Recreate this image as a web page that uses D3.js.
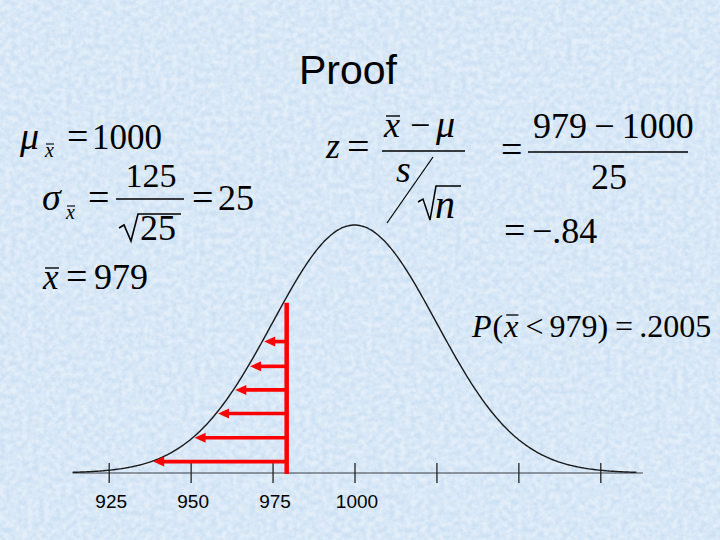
<!DOCTYPE html>
<html>
<head>
<meta charset="utf-8">
<script src="https://cdn.jsdelivr.net/npm/d3@7"></script>
<style>
  html, body { margin: 0; padding: 0; background: #d0e3f5; }
  svg { display: block; }
</style>
</head>
<body>
<svg id="chart" width="720" height="540"></svg>
<script>
// ---- data ----
const mu = 1000;            // population / sampling mean
const sigmaXbar = 25;       // standard error 125/sqrt(25)
const xbar = 979;           // observed sample mean
const tickValues = [925, 950, 975, 1000, 1025, 1050, 1075];
const tickLabels = ["925", "950", "975", "1000", "", "", ""];
const curveDomain = [914, 1086];
const axisDomain = [914, 1088];
// heights of the red arrows, as a fraction of the curve's peak density
const arrowLevels = [0.53, 0.43, 0.335, 0.24, 0.142, 0.046];
const titleText = "Proof";

// ---- setup ----
const svg = d3.select("#chart");
const W = 720, H = 540;

// background texture
const defs = svg.append("defs");
const f = defs.append("filter").attr("id", "tex").attr("x", 0).attr("y", 0).attr("width", 1).attr("height", 1);
f.append("feTurbulence").attr("type", "fractalNoise").attr("baseFrequency", "0.18")
  .attr("numOctaves", 3).attr("seed", 11).attr("result", "n");
f.append("feColorMatrix").attr("in", "n").attr("type", "matrix")
  .attr("values", "0 0 0 0 1  0 0 0 0 1  0 0 0 0 1  2.0 0 0 0 -0.5");
svg.append("rect").attr("width", W).attr("height", H).attr("fill", "#cde1f4");
svg.append("rect").attr("width", W).attr("height", H).attr("fill", "#fff")
  .attr("filter", "url(#tex)").attr("opacity", 0.45);

// scales
const x = d3.scaleLinear().domain([925, 1075]).range([108.7, 600.3]);
const pdf = v => Math.exp(-0.5 * ((v - mu) / sigmaXbar) ** 2) / (sigmaXbar * Math.sqrt(2 * Math.PI));
const peak = pdf(mu);
const y = d3.scaleLinear().domain([0, peak]).range([473, 225]);

// axis baseline
svg.append("line")
  .attr("x1", x(axisDomain[0])).attr("x2", x(axisDomain[1]))
  .attr("y1", y(0)).attr("y2", y(0))
  .attr("stroke", "#3a3f45").attr("stroke-width", 1.2);

// axis ticks + labels
const axis = d3.axisBottom(x).tickValues(tickValues).tickSize(10)
  .tickFormat((d, i) => tickLabels[i]);
const ax = svg.append("g").attr("transform", `translate(0,${y(0)})`).call(axis);
ax.select(".domain").remove();
ax.selectAll(".tick line").attr("y1", -10).attr("y2", 10)
  .attr("stroke", "#222").attr("stroke-width", 1.3);
ax.selectAll(".tick text").attr("y", 35).attr("dy", 0).attr("dx", 2)
  .style("font-family", "'Liberation Sans', Arial, sans-serif")
  .style("font-size", "19px").attr("fill", "#000");

// normal curve
const pts = d3.range(curveDomain[0], curveDomain[1] + 0.01, 0.5);
const line = d3.line().x(d => x(d)).y(d => y(pdf(d))).curve(d3.curveBasis);
svg.append("path").datum(pts).attr("d", line)
  .attr("fill", "none").attr("stroke", "#1a1a1a").attr("stroke-width", 1.4);

// red arrows
const red = "#f00";
const xr = x(xbar) + 1;
arrowLevels.forEach(lv => {
  const dens = lv * peak;
  const v = mu - sigmaXbar * Math.sqrt(-2 * Math.log(lv));
  const tx = x(v) + 2, ty = y(dens);
  svg.append("line").attr("x1", xr).attr("x2", tx + 8).attr("y1", ty).attr("y2", ty)
    .attr("stroke", red).attr("stroke-width", 3.6);
  svg.append("path")
    .attr("d", `M${tx},${ty} L${tx + 11},${ty - 5} L${tx + 11},${ty + 5} Z`)
    .attr("fill", red);
});
svg.append("line").attr("x1", xr).attr("x2", xr)
  .attr("y1", y(pdf(xbar)) + 4).attr("y2", y(0) + 1)
  .attr("stroke", red).attr("stroke-width", 4.5);

// title
svg.append("text").attr("x", 348).attr("y", 84).attr("text-anchor", "middle")
  .style("font-family", "'Liberation Sans', Arial, sans-serif").style("font-size", "41px")
  .attr("fill", "#000").text(titleText);

// ---- math annotations ----
const serif = "'Liberation Serif', 'Times New Roman', serif";
const m = svg.append("g").attr("fill", "#000").style("font-family", serif);
function t(xp, yp, str, size = 36, italic = false, anchor = "start") {
  return m.append("text").attr("x", xp).attr("y", yp).attr("text-anchor", anchor)
    .style("font-size", size + "px").style("font-style", italic ? "italic" : "normal").text(str);
}
function hl(x1, x2, yy, w = 1.4) {
  m.append("line").attr("x1", x1).attr("x2", x2).attr("y1", yy).attr("y2", yy)
    .attr("stroke", "#000").attr("stroke-width", w);
}
function pth(d, w = 1.4) {
  m.append("path").attr("d", d).attr("fill", "none").attr("stroke", "#000").attr("stroke-width", w);
}

// mu_xbar = 1000
t(20, 149, "\u03BC", 38, true);
t(45, 157, "x", 20, true); hl(46, 54, 144, 1.1);
t(67, 149, "=", 38);
t(92, 149, String(mu), 35);

// sigma_xbar = 125 / sqrt(25) = 25
t(42, 210, "\u03C3", 38, true);
t(66, 219, "x", 20, true); hl(67, 75, 206, 1.1);
t(88, 210, "=", 38);
t(151, 187, "125", 34, false, "middle");
hl(116, 184, 199, 1.6);
pth("M119,228 L124,225 L131,241 L138,214 L181,214", 1.6);
t(140, 240, "25");
t(192, 210, "=", 38);
t(218, 210, String(sigmaXbar));

// xbar = 979
t(43, 289, "x", 35, true); hl(45, 59, 268, 1.4);
t(66, 289, "=", 38);
t(94, 289, String(xbar));

// z = (xbar - mu) / (s / sqrt n)
t(326, 158, "z", 36, true);
t(347, 160, "=", 40);
t(384, 137, "x", 36, true); hl(386, 400, 116, 1.4);
t(410, 137, "\u2212", 36);
t(436, 137, "\u03BC", 38, true);
hl(382, 465, 151, 1.4);
t(396, 182, "s", 38, true);
pth("M433,157 L387,223", 1.2);
pth("M418,202 L423,199 L430,220 L436,186 L461,186", 1.5);
t(435, 218, "n", 40, true);

// = (979 - 1000)/25 = -.84
t(501, 162, "=", 38);
t(533, 138, "979\u2009\u2212\u20091000", 36);
hl(528, 688, 152, 1.6);
t(609, 189, "25", 36, false, "middle");
t(504, 243, "=", 38);
t(532, 243, "\u2212.84", 36);

// P(xbar < 979) = .2005
(function () {
  const size = 32, yb = 337;
  let cx = 472;
  const parts = [
    { s: "P", it: true, g: 1 }, { s: "(", it: false, g: 1 }, { s: "x", it: true, over: true, g: 7 },
    { s: "<", it: false, g: 6 }, { s: "979)", it: false, g: 7 }, { s: "=", it: false, g: 6 },
    { s: ".2005", it: false, g: 0 }
  ];
  parts.forEach(p => {
    const el = t(cx, yb, p.s, size, p.it);
    const w = el.node().getComputedTextLength();
    if (p.over) hl(cx + 2, cx + w, yb - 22, 1.3);
    cx += w + p.g;
  });
})();
</script>
</body>
</html>
